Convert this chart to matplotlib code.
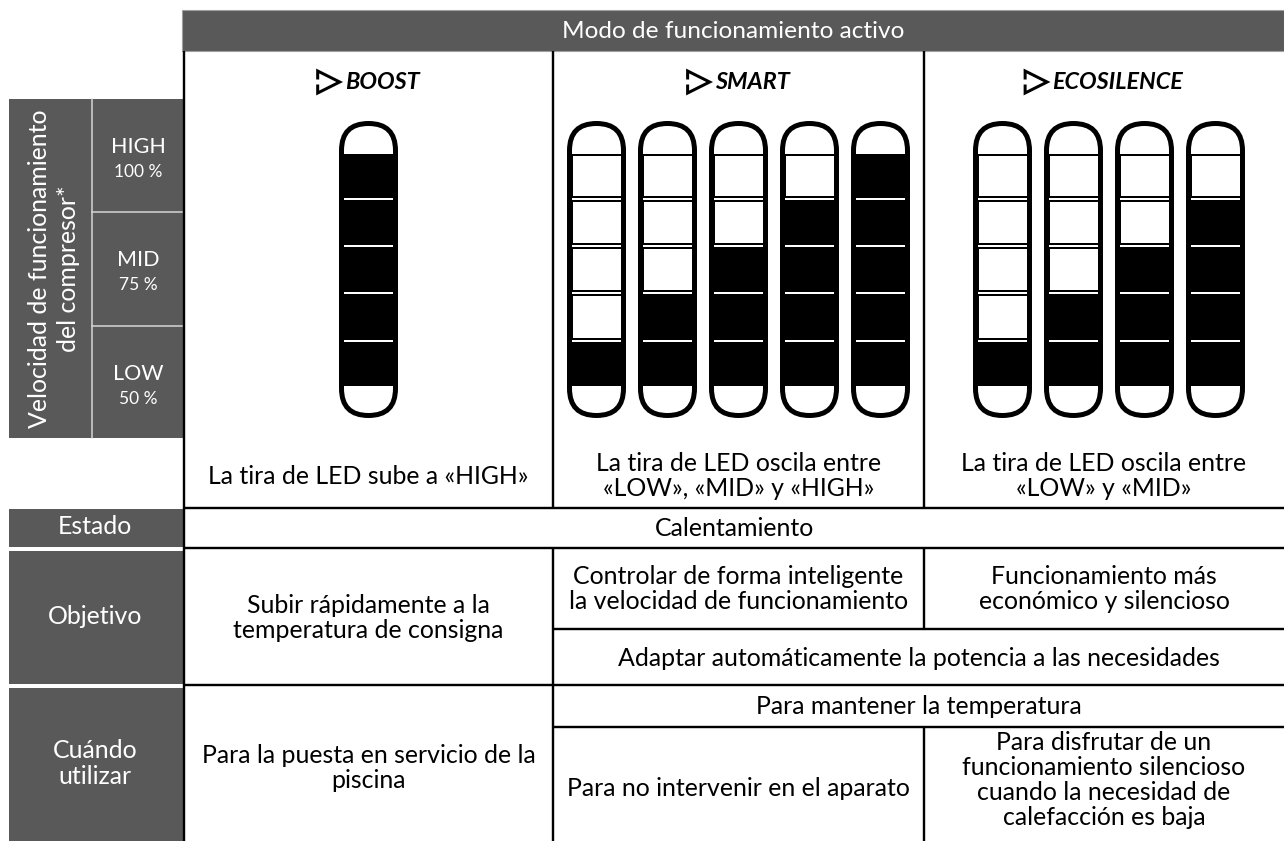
import matplotlib
matplotlib.use("Agg")
import matplotlib.pyplot as plt
from matplotlib.patches import Rectangle, FancyBboxPatch

# ---------------- data ----------------
header_title = "Modo de funcionamiento activo"
modes = ["BOOST", "SMART", "ECOSILENCE"]
# number of lit LED segments (out of 5) for every strip shown in each mode
lit_segments = {
    "BOOST": [5],
    "SMART": [1, 2, 3, 4, 5],
    "ECOSILENCE": [1, 2, 3, 4],
}
n_segments = 5
speed_labels = ["HIGH", "MID", "LOW"]
speed_pcts = ["100 %", "75 %", "50 %"]
speed_axis_label = "Velocidad de funcionamiento\ndel compresor*"
led_texts = ["La tira de LED sube a «HIGH»",
             "La tira de LED oscila entre\n«LOW», «MID» y «HIGH»",
             "La tira de LED oscila entre\n«LOW» y «MID»"]
row_labels = ["Estado", "Objetivo", "Cuándo\nutilizar"]
estado_text = "Calentamiento"
objetivo_boost = "Subir rápidamente a la\ntemperatura de consigna"
objetivo_smart = "Controlar de forma inteligente\nla velocidad de funcionamiento"
objetivo_eco = "Funcionamiento más\neconómico y silencioso"
objetivo_shared = "Adaptar automáticamente la potencia a las necesidades"
cuando_boost = "Para la puesta en servicio de la\npiscina"
cuando_shared = "Para mantener la temperatura"
cuando_smart = "Para no intervenir en el aparato"
cuando_eco = "Para disfrutar de un\nfuncionamiento silencioso\ncuando la necesidad de\ncalefacción es baja"

# ---------------- layout ----------------
W, H = 1284, 841
fig = plt.figure(figsize=(W / 100, H / 100), dpi=100)
ax = fig.add_axes([0, 0, 1, 1])
ax.set_xlim(0, W)
ax.set_ylim(H, 0)
ax.axis("off")

PT = 72 / 100  # points per pixel
DARK = "#595959"
FONT = ["Lato", "DejaVu Sans"]
FS = 17.9

X0, XB, XS, XR = 184, 553, 924, W
col_centers = [(X0 + XB) / 2, (XB + XS) / 2, (XS + XR) / 2]
pill_group_offset = [0, 0, 5]
pill_spacing = 71


def txt(x, y, s, size=FS, color="black", ls=1.1, **kw):
    return ax.text(x, y, s, fontsize=size, color=color, family=FONT,
                   ha="center", va="center", linespacing=ls,
                   multialignment="center", **kw)


# header band
ax.add_patch(Rectangle((182, 10), W - 182, 41, facecolor=DARK,
                       edgecolor="#a0a0a0", lw=0.8))
txt((182 + W) / 2, 31, header_title, color="white", size=17.6)

# left dark panel
ax.add_patch(Rectangle((9, 99), 175, 339, facecolor=DARK, edgecolor="none"))
ax.plot([92, 92], [99, 438], color="#d8d8d8", lw=1.5 * PT)
for yy in (212, 326):
    ax.plot([92, 184], [yy, yy], color="#d8d8d8", lw=1.5 * PT)
txt(54, 269, speed_axis_label, color="white", rotation=90, size=FS, ls=1.3)
band_top = [99, 212, 326]
for i, (lab, pct) in enumerate(zip(speed_labels, speed_pcts)):
    yc = band_top[i] + 56.5
    txt(138, yc - 9, lab, color="white", size=15.5)
    txt(138, yc + 16.5, pct, color="white", size=12.5)

row_boxes = [(509, 547), (551, 684), (688, H)]
for (y0, y1), lab in zip(row_boxes, row_labels):
    ax.add_patch(Rectangle((9, y0), 175, y1 - y0, facecolor=DARK, edgecolor="none"))
    txt(95, (y0 + y1) / 2 - 1, lab, color="white", ls=1.2)

# table lines
LW = 2.4 * PT
hlines = [(508, X0, XR), (548, X0, XR), (629, XB, XR), (685, X0, XR), (727, XB, XR)]
for y, xa, xb in hlines:
    ax.plot([xa, xb], [y, y], color="black", lw=LW, solid_capstyle="butt")
vlines = [(X0, 51, H), (XB, 51, 508), (XB, 548, H), (XS, 51, 508),
          (XS, 548, 629), (XS, 727, H)]
for x, ya, yb in vlines:
    ax.plot([x, x], [ya, yb], color="black", lw=LW, solid_capstyle="butt")

# titles with play icon
fig.canvas.draw()
inv = ax.transData.inverted()
for cx, mode in zip(col_centers, modes):
    t = ax.text(0, 82, mode, fontsize=16.8, fontweight="bold", style="italic",
                family=FONT, ha="left", va="center", color="black")
    bb = t.get_window_extent(renderer=fig.canvas.get_renderer())
    w = inv.transform((bb.x1, 0))[0] - inv.transform((bb.x0, 0))[0]
    icon_w, gap = 22, 5
    x_left = cx - (icon_w + gap + w) / 2
    t.set_x(x_left + icon_w + gap)
    yt, yb_, ym = 71, 93, 82
    ax.plot([x_left, x_left, x_left + icon_w, x_left, x_left],
            [ym - 4, yt, ym, yb_, ym + 4], color="black", lw=3 * PT,
            solid_joinstyle="miter")

# LED strips
seg_bounds = [153, 199, 246, 293, 341, 387]
outer_top, outer_bot = 121, 418
outer_half = 29.5
out_lw = 5
for ci, mode in enumerate(modes):
    levels = lit_segments[mode]
    n = len(levels)
    center = col_centers[ci] + pill_group_offset[ci]
    for k, lvl in enumerate(levels):
        cx = center + (k - (n - 1) / 2) * pill_spacing
        for s in range(n_segments):
            y0, y1 = seg_bounds[s], seg_bounds[s + 1]
            lit = s >= n_segments - lvl
            ax.add_patch(Rectangle((cx - 25, y0 + 2), 50, (y1 - y0) - 4,
                                   facecolor="black" if lit else "white",
                                   edgecolor="black", lw=2 * PT))
        r = outer_half - out_lw / 2
        ax.add_patch(FancyBboxPatch((cx - r, outer_top + out_lw / 2), 2 * r,
                                    (outer_bot - outer_top) - out_lw,
                                    boxstyle=f"round,pad=0,rounding_size={r}",
                                    facecolor="none", edgecolor="black",
                                    lw=out_lw * PT))

# LED description row
for cx, s in zip(col_centers, led_texts):
    txt(cx, 476, s)

# Estado
txt((X0 + XR) / 2, 529, estado_text)

# Objetivo
txt(col_centers[0], 618, objetivo_boost)
txt(col_centers[1], 589, objetivo_smart)
txt(col_centers[2], 589, objetivo_eco)
txt((XB + XR) / 2, 658, objetivo_shared)

# Cuando utilizar
txt(col_centers[0], 768, cuando_boost)
txt((XB + XR) / 2, 707, cuando_shared)
txt(col_centers[1], 789, cuando_smart)
txt(col_centers[2], 780, cuando_eco)

fig.savefig("out.png", dpi=100, facecolor="white")
